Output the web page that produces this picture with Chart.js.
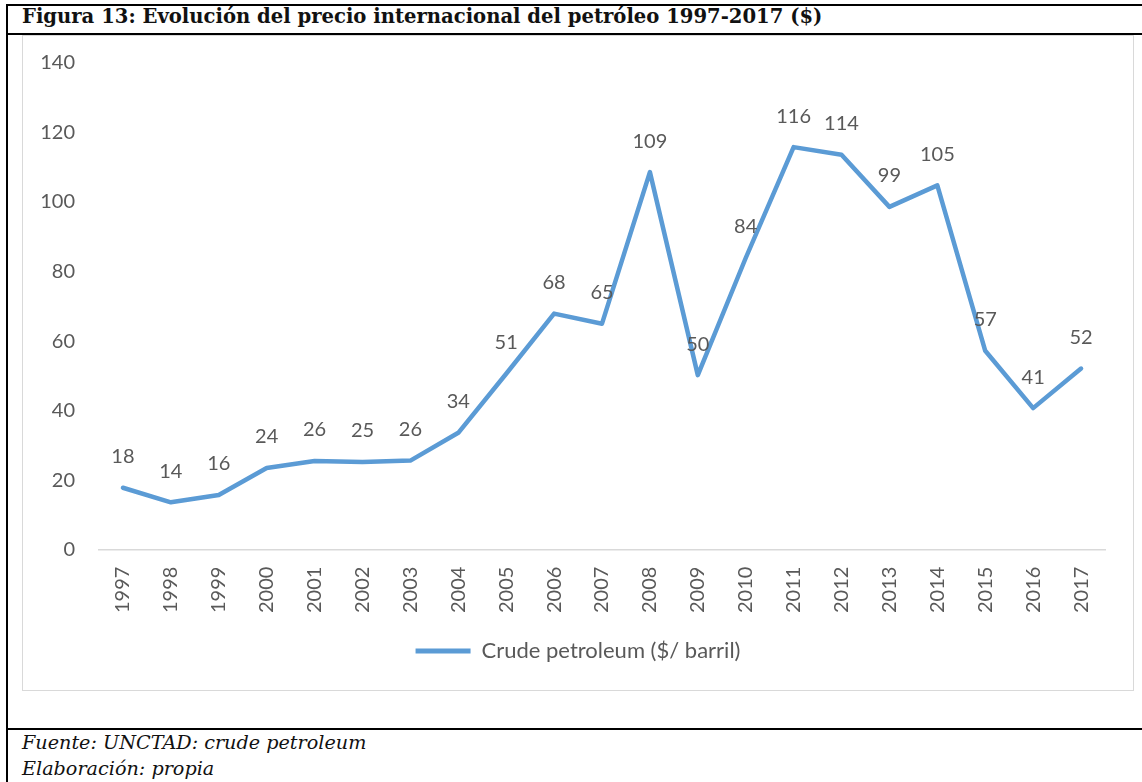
<!DOCTYPE html>
<html lang="es">
<head>
<meta charset="utf-8">
<title>Figura 13</title>
<script src="https://cdn.jsdelivr.net/npm/chart.js@4.4.0/dist/chart.umd.min.js"></script>
<style>
  html, body { margin: 0; padding: 0; background: #fff; }
  body { width: 1142px; height: 782px; position: relative; overflow: hidden; }
  .linea { position: absolute; background: #000; }
  .titulo { position: absolute; left: 22px; top: 5px; font: bold 19.6px "DejaVu Serif", serif; color: #111; white-space: nowrap; }
  .caja { position: absolute; left: 22px; top: 35px; width: 1110px; height: 654px; border: 1px solid #d9d9d9; }
  .caja canvas { display: block; }
  .pie { position: absolute; left: 22px; font: italic 19.2px "DejaVu Serif", serif; color: #111; white-space: nowrap; }
</style>
</head>
<body>
<div class="linea" style="left:6px; top:4px; width:1136px; height:2px;"></div>
<div class="linea" style="left:6px; top:4px; width:2px; height:778px;"></div>
<div class="linea" style="left:6px; top:33px; width:1136px; height:2px;"></div>
<div class="linea" style="left:6px; top:728px; width:1136px; height:2px;"></div>
<div class="titulo">Figura 13: Evolución del precio internacional del petróleo 1997-2017 ($)</div>
<div class="caja"><canvas id="grafico" width="1110" height="654"></canvas></div>
<div class="pie" style="top:731px;">Fuente: UNCTAD: crude petroleum</div>
<div class="pie" style="top:757px;">Elaboración: propia</div>
<script>
// Datos
const anios = ['1997','1998','1999','2000','2001','2002','2003','2004','2005','2006','2007',
               '2008','2009','2010','2011','2012','2013','2014','2015','2016','2017'];
const precios = [17.8, 13.6, 15.7, 23.5, 25.5, 25.2, 25.6, 33.6, 50.6, 67.9, 65.0,
                 108.6, 50.2, 83.9, 115.8, 113.6, 98.6, 104.8, 57.2, 40.7, 52.1];
const nombreSerie = 'Crude petroleum ($/ barril)';
const gris = '#595959';
const azul = '#5B9BD5';

// Etiquetas de datos encima de cada punto
const etiquetasDatos = {
  id: 'etiquetasDatos',
  afterDatasetsDraw(chart) {
    const ctx = chart.ctx;
    const meta = chart.getDatasetMeta(0);
    ctx.save();
    ctx.font = '20px Lato';
    ctx.fillStyle = gris;
    ctx.textAlign = 'center';
    ctx.textBaseline = 'middle';
    meta.data.forEach((p, i) => {
      ctx.fillText(Math.round(precios[i]), p.x, p.y - 31);
    });
    ctx.restore();
  }
};

new Chart(document.getElementById('grafico'), {
  type: 'line',
  data: {
    labels: anios,
    datasets: [{
      label: nombreSerie,
      data: precios,
      borderColor: azul,
      backgroundColor: azul,
      borderWidth: 4.5,
      borderJoinStyle: 'round',
      borderCapStyle: 'round',
      pointRadius: 0,
      tension: 0
    }]
  },
  options: {
    responsive: false,
    animation: false,
    layout: { padding: { top: 27, left: 0, right: 0, bottom: 18 } },
    scales: {
      x: {
        offset: true,
        grid: { display: false, drawTicks: false },
        border: { color: '#d9d9d9', width: 1.5 },
        ticks: { color: gris, font: { family: 'Lato', size: 20 }, minRotation: 90, maxRotation: 90, padding: 17, autoSkip: false },
        // margen derecho del área de trazado sin desplazar la leyenda
        afterFit(scale) { scale.paddingLeft = 0; scale.paddingRight = 28; }
      },
      y: {
        min: 0, max: 140,
        grid: { display: false, drawTicks: false },
        border: { display: false },
        ticks: { stepSize: 20, color: gris, font: { family: 'Lato', size: 20 }, padding: 24 },
        afterFit(scale) { scale.width = 76; scale.paddingTop = 0; scale.paddingBottom = 0; }
      }
    },
    plugins: {
      tooltip: { enabled: false },
      legend: {
        position: 'bottom',
        labels: {
          color: gris,
          font: { family: 'Lato', size: 22 },
          boxWidth: 55,
          boxHeight: 5,
          padding: 10,
          generateLabels(chart) {
            const items = Chart.defaults.plugins.legend.labels.generateLabels(chart);
            items.forEach(it => { it.lineWidth = 0; });
            return items;
          }
        }
      }
    }
  },
  plugins: [etiquetasDatos]
});
</script>
</body>
</html>
